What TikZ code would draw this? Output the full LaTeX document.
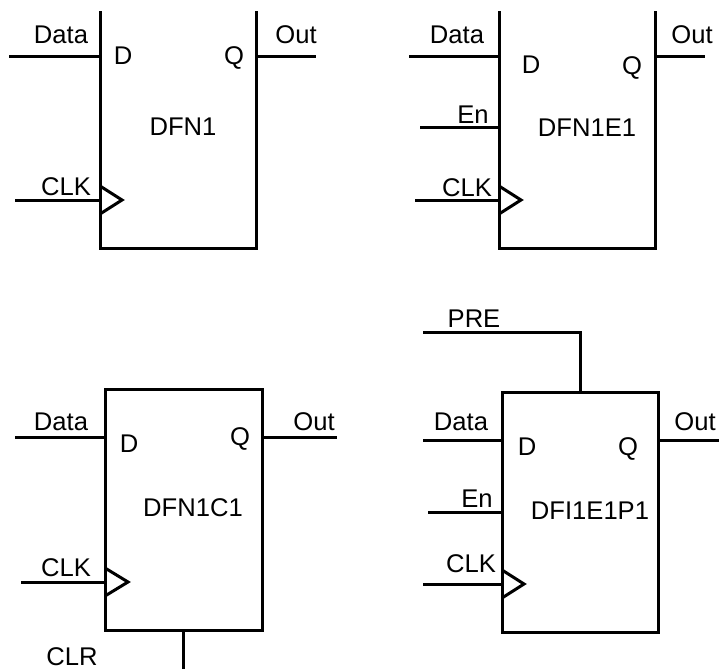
\documentclass[tikz,border=0pt]{standalone}
\usepackage{fontspec}
\setmainfont{Liberation Sans}
\usetikzlibrary{positioning}

\begin{document}
\begin{tikzpicture}[x=0.5pt, y=-0.5pt, line width=1.5pt,
  rotulo/.style={anchor=base, inner sep=0pt, font=\fontsize{12.8}{15}\selectfont}]
  \useasboundingbox (0,0) rectangle (719,669);

  % DFN1
  \coordinate (a1) at (100,11);  \coordinate (a2) at (100,248);
  \coordinate (a3) at (256,248); \coordinate (a4) at (256,11);
  \draw (a1) -- (a2) -- (a3) -- (a4);
  \coordinate (aDin) at (9,56);   \coordinate (aD) at (100,56);
  \coordinate (aQ) at (256,56);   \coordinate (aOut) at (316,56);
  \coordinate (aCin) at (15,200); \coordinate (aC) at (100,200);
  \draw (aDin) -- (aD);
  \draw (aQ) -- (aOut);
  \draw (aCin) -- (aC);
  \draw (aC) ++(0,-14) -- ++(22,14) -- ++(-22,14);
  \node[rotulo] (aData) at (61,43) {Data};
  \node[rotulo] (aOutT) at (296,43) {Out};
  \node[rotulo] (aDT) at (123,64) {D};
  \node[rotulo] (aQT) at (234,64) {Q};
  \node[rotulo] (aNome) at (183,135) {DFN1};
  \node[rotulo] (aClk) at (66,195) {CLK};

  % DFN1E1
  \coordinate (b1) at (499,11);  \coordinate (b2) at (499,248);
  \coordinate (b3) at (655,248); \coordinate (b4) at (655,11);
  \draw (b1) -- (b2) -- (b3) -- (b4);
  \coordinate (bDin) at (409,56);  \coordinate (bD) at (499,56);
  \coordinate (bQ) at (655,56);    \coordinate (bOut) at (705,56);
  \coordinate (bEin) at (420,127); \coordinate (bE) at (499,127);
  \coordinate (bCin) at (415,200); \coordinate (bC) at (499,200);
  \draw (bDin) -- (bD);
  \draw (bQ) -- (bOut);
  \draw (bEin) -- (bE);
  \draw (bCin) -- (bC);
  \draw (bC) ++(0,-14) -- ++(22,14) -- ++(-22,14);
  \node[rotulo] (bData) at (457,43) {Data};
  \node[rotulo] (bOutT) at (692,43) {Out};
  \node[rotulo] (bDT) at (531,73) {D};
  \node[rotulo] (bQT) at (632,75) {Q};
  \node[rotulo] (bEn) at (473,123) {En};
  \node[rotulo] (bNome) at (587,136) {DFN1E1};
  \node[rotulo] (bClk) at (467,196) {CLK};

  % DFN1C1
  \coordinate (c1) at (105,389); \coordinate (c3) at (262,630);
  \draw (c1) rectangle (c3);
  \coordinate (cDin) at (15,437);  \coordinate (cD) at (105,437);
  \coordinate (cQ) at (262,437);   \coordinate (cOut) at (337,437);
  \coordinate (cCin) at (21,582);  \coordinate (cC) at (105,582);
  \coordinate (cR) at (183,630);   \coordinate (cRin) at (183,669);
  \draw (cDin) -- (cD);
  \draw (cQ) -- (cOut);
  \draw (cCin) -- (cC);
  \draw (cR) -- (cRin);
  \draw (cC) ++(0,-14) -- ++(23,14) -- ++(-23,14);
  \node[rotulo] (cData) at (61,430) {Data};
  \node[rotulo] (cOutT) at (314,430) {Out};
  \node[rotulo] (cDT) at (129,452) {D};
  \node[rotulo] (cQT) at (240,445) {Q};
  \node[rotulo] (cNome) at (193,516) {DFN1C1};
  \node[rotulo] (cClk) at (66,576) {CLK};
  \node[rotulo] (cClr) at (72,665) {CLR};

  % DFI1E1P1
  \coordinate (d1) at (502,392); \coordinate (d3) at (658,632);
  \draw (d1) rectangle (d3);
  \coordinate (dPin) at (423,332); \coordinate (dPc) at (580,332);
  \coordinate (dP) at (580,392);
  \coordinate (dDin) at (423,440); \coordinate (dD) at (502,440);
  \coordinate (dQ) at (658,440);   \coordinate (dOut) at (719,440);
  \coordinate (dEin) at (428,512); \coordinate (dE) at (502,512);
  \coordinate (dCin) at (423,584); \coordinate (dC) at (502,584);
  \draw (dPin) -- (dPc) -- (dP);
  \draw (dDin) -- (dD);
  \draw (dQ) -- (dOut);
  \draw (dEin) -- (dE);
  \draw (dCin) -- (dC);
  \draw (dC) ++(0,-14) -- ++(22,14) -- ++(-22,14);
  \node[rotulo] (dPre) at (474,327) {PRE};
  \node[rotulo] (dData) at (461,430) {Data};
  \node[rotulo] (dOutT) at (695,430) {Out};
  \node[rotulo] (dDT) at (527,455) {D};
  \node[rotulo] (dQT) at (628,455) {Q};
  \node[rotulo] (dEn) at (477,507) {En};
  \node[rotulo] (dNome) at (590,519) {DFI1E1P1};
  \node[rotulo] (dClk) at (471,572) {CLK};
\end{tikzpicture}
\end{document}
